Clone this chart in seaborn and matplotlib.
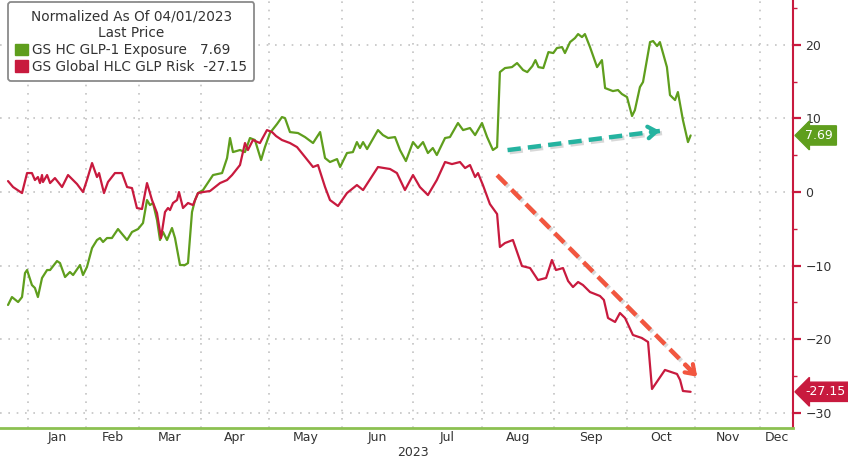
import numpy as np
import pandas as pd
import matplotlib
matplotlib.use("Agg")
import matplotlib.pyplot as plt
import matplotlib.dates as mdates
import matplotlib.transforms as mtrans
import matplotlib.patheffects as pe
from matplotlib.patches import Patch
from matplotlib.ticker import FixedLocator, MultipleLocator, NullFormatter
import seaborn as sns

# ---------------- data (days since 2023-01-01, value) ----------------
BASE = pd.Timestamp("2023-01-01")
green_name = "GS HC GLP-1 Exposure"
red_name = "GS Global HLC GLP Risk"
green_last = 7.69
red_last = -27.15
legend_title = "Normalized As Of 04/01/2023\nLast Price"
months = ["Jan", "Feb", "Mar", "Apr", "May", "Jun", "Jul", "Aug", "Sep", "Oct", "Nov", "Dec"]
year_label = "2023"
y_ticks = [20, 10, 0, -10, -20, -30]

green_days = [
    -10.7, -8.6, -5.3, -3.2, -1.6, -0.5, 2.1, 3.7, 5.3, 7.5,
    10.2, 11.8, 15.5, 17.1, 19.8, 22.4, 24.1, 27.8, 29.4, 31.5,
    34.2, 36.8, 38.4, 40.0, 42.1, 44.7, 47.9, 52.7, 55.3, 58.5,
    61.0, 63.0, 64.5, 66.0, 68.0, 69.5, 71.0, 73.0, 75.5, 77.0,
    79.5, 82.0, 83.5, 85.5, 87.0, 88.5, 90.9, 95.3, 99.3, 101.5,
    102.8, 104.1, 107.2, 109.4, 111.6, 113.8, 116.5, 118.2, 120.4, 123.4,
    125.5, 126.8, 128.9, 132.3, 135.3, 138.7, 141.7, 143.8, 145.9, 148.9,
    150.2, 153.1, 155.6, 157.3, 158.6, 159.9, 161.6, 166.2, 168.3, 170.5,
    173.4, 175.5, 178.0, 181.0, 183.2, 185.5, 187.7, 189.9, 191.7, 195.4,
    197.6, 201.2, 203.5, 206.6, 208.9, 212.0, 214.2, 216.7, 218.5, 219.7,
    221.9, 224.9, 227.1, 229.7, 231.5, 233.7, 235.0, 236.3, 238.4, 240.6,
    242.7, 244.2, 246.3, 247.5, 249.6, 251.6, 252.9, 254.5, 255.7, 257.8,
    260.7, 262.7, 264.0, 267.2, 269.3, 270.9, 273.0, 275.3, 276.6, 278.9,
    280.3, 283.5, 284.9, 286.7, 288.0, 291.2, 292.6, 294.9, 296.2, 298.5,
    300.8, 302.0,
]
green_vals = [
    -15.35, -14.27, -14.95, -14.27, -11.01, -10.60, -12.64, -13.04, -14.27, -11.68,
    -10.60, -10.60, -9.38, -9.65, -11.55, -10.87, -11.28, -9.92, -11.28, -10.19,
    -7.61, -6.52, -6.25, -6.79, -6.25, -6.25, -5.03, -6.52, -5.43, -5.03,
    -4.21, -1.09, -1.77, -1.49, -3.80, -6.52, -5.43, -6.52, -4.89, -6.25,
    -9.92, -9.92, -9.65, -2.72, -1.09, -0.14, 0.27, 2.31, 2.58, 4.62,
    7.34, 5.43, 5.71, 5.43, 7.34, 7.07, 4.35, 6.11, 8.02, 9.24,
    10.19, 10.05, 8.15, 8.02, 7.47, 6.66, 8.15, 4.62, 4.08, 4.48,
    3.40, 5.30, 5.43, 6.79, 5.98, 6.79, 5.84, 8.42, 7.74, 7.34,
    7.47, 5.71, 4.21, 6.79, 5.98, 6.79, 5.30, 5.98, 5.03, 7.34,
    7.47, 9.38, 8.42, 8.70, 7.74, 9.38, 7.47, 5.71, 6.11, 16.30,
    16.85, 16.98, 17.53, 16.58, 16.30, 17.12, 17.93, 16.98, 16.85, 19.02,
    18.89, 19.57, 19.70, 18.89, 20.38, 20.92, 21.47, 21.06, 21.47, 19.70,
    16.98, 17.93, 14.13, 13.72, 13.86, 13.32, 12.91, 10.33, 11.14, 14.27,
    14.95, 20.38, 20.52, 19.84, 20.38, 16.98, 13.18, 12.50, 13.59, 9.78,
    6.79, 7.69,
]

red_days = [
    -10.7, -8.0, -3.2, -0.5, 2.1, 3.7, 5.3, 6.4, 7.5, 8.0,
    10.2, 11.8, 14.4, 18.2, 21.4, 26.2, 29.4, 31.5, 34.2, 36.8,
    37.9, 40.5, 42.6, 46.3, 50.0, 52.7, 55.3, 57.9, 60.5, 63.0,
    65.5, 68.0, 70.0, 72.0, 73.5, 74.5, 76.0, 78.0, 79.0, 81.0,
    83.5, 86.0, 88.5, 90.9, 94.0, 98.4, 101.5, 103.7, 107.2, 109.4,
    110.7, 112.9, 116.0, 119.1, 121.3, 123.0, 125.5, 128.9, 131.9, 135.3,
    138.7, 140.8, 143.8, 145.9, 149.3, 153.1, 157.3, 159.9, 166.2, 171.3,
    174.2, 177.6, 181.0, 184.1, 187.7, 191.7, 195.4, 198.5, 202.1, 204.4,
    206.6, 208.9, 210.2, 212.4, 215.4, 218.5, 219.7, 221.9, 225.3, 229.2,
    232.7, 236.1, 239.6, 242.1, 243.8, 246.7, 248.8, 250.8, 252.9, 254.9,
    257.8, 261.9, 263.5, 265.2, 268.1, 270.1, 272.2, 275.7, 279.8, 282.6,
    284.4, 290.3, 295.8, 297.2, 298.5, 302.0,
]
red_vals = [
    1.49, 0.68, -0.14, 2.58, 2.58, 1.63, 2.04, 1.22, 2.31, 1.36,
    2.31, 1.22, 1.90, 0.68, 2.31, 1.09, 0.00, 1.63, 3.94, 2.04,
    2.58, -0.14, 1.36, 2.58, 2.58, 0.68, 0.54, -2.17, -2.31, 1.22,
    -1.09, -2.85, -6.25, -2.72, -2.17, -2.45, -1.49, -1.09, 0.00, -2.17,
    -1.49, -1.77, -0.14, 0.00, 0.14, 1.22, 1.63, 2.31, 3.67, 6.66,
    5.71, 7.07, 6.66, 8.42, 8.15, 7.61, 7.07, 6.66, 6.11, 4.76,
    3.40, 3.67, 0.68, -1.09, -1.90, -0.14, 0.95, 0.27, 3.40, 3.13,
    2.58, 0.27, 2.31, 0.68, -0.41, 1.63, 4.08, 3.80, 4.08, 3.26,
    3.67, 2.04, 2.58, 0.95, -1.63, -2.99, -7.47, -6.93, -6.52, -10.05,
    -10.33, -11.96, -11.68, -9.24, -10.60, -10.33, -12.09, -12.91, -12.23, -12.64,
    -13.59, -14.13, -14.67, -17.12, -17.66, -16.44, -17.12, -19.43, -19.84, -20.38,
    -26.77, -24.18, -24.73, -25.54, -27.04, -27.15,
]

# trend-arrow annotations: (start day, start value) -> (end day, end value)
teal_arrow = ((223.0, 5.7), (288.0, 8.3))
red_arrow = ((218.5, 2.3), (305.0, -25.1))

# ---------------- style ----------------
GREEN = "#5f9e1d"
RED = "#c81a3e"
AXIS_GREEN = "#8cc152"
TEAL = "#25b3a0"
ORANGE = "#f2563f"
TXT = "#333333"

sns.set_theme(style="white")
plt.rcParams["font.family"] = ["DejaVu Sans"]

fig = plt.figure(figsize=(8.48, 4.63), dpi=100)
ax = fig.add_axes([0.0, 1 - 428 / 463, 793 / 848, 428 / 463])

def to_dates(days):
    return BASE + pd.to_timedelta(np.asarray(days, float), unit="D")

df = pd.concat([
    pd.DataFrame({"date": to_dates(green_days), "value": green_vals, "series": green_name}),
    pd.DataFrame({"date": to_dates(red_days), "value": red_vals, "series": red_name}),
])
sns.lineplot(data=df, x="date", y="value", hue="series",
             palette={green_name: GREEN, red_name: RED},
             linewidth=1.6, legend=False, ax=ax, estimator=None, sort=False)

# ---- x scale: month bands as drawn in the reference (uneven widths) ----
knot_dates = pd.to_datetime(["2022-12-17", "2023-01-01", "2023-02-01", "2023-03-01", "2023-04-01",
                             "2023-05-01", "2023-06-01", "2023-07-01", "2023-08-01", "2023-09-01",
                             "2023-10-01", "2023-11-01", "2023-12-01", "2023-12-16"])
knot_width = np.array([0, 28, 86, 139, 201, 269, 342, 413, 482, 554, 627, 695, 760, 793], float)
kx = mdates.date2num(knot_dates)
s0 = (knot_width[1] - knot_width[0]) / (kx[1] - kx[0])
s1 = (knot_width[-1] - knot_width[-2]) / (kx[-1] - kx[-2])
KX = np.r_[kx[0] - 1e6, kx, kx[-1] + 1e6]
KP = np.r_[knot_width[0] - 1e6 * s0, knot_width, knot_width[-1] + 1e6 * s1]

def fwd(v):
    return np.interp(np.asarray(v, float), KX, KP)

def inv(v):
    return np.interp(np.asarray(v, float), KP, KX)

ax.set_xscale("function", functions=(fwd, inv))
ax.set_xlim(kx[0], kx[-1])
ax.set_ylim(-32.07, 26.1)

# month starts (grid) and month labels (centre of visible span)
month_starts = mdates.date2num(pd.date_range("2023-01-01", "2023-12-01", freq="MS"))
month_ends = mdates.date2num(pd.date_range("2023-02-01", "2024-01-01", freq="MS"))
mids = []
for a, b in zip(month_starts, month_ends):
    a2, b2 = max(a, kx[0]), min(b, kx[-1])
    mids.append(inv((fwd(a2) + fwd(b2)) / 2))
ax.xaxis.set_major_locator(FixedLocator(month_starts))
ax.xaxis.set_major_formatter(NullFormatter())
ax.xaxis.set_minor_locator(FixedLocator(mids))
ax.xaxis.set_minor_formatter(matplotlib.ticker.FixedFormatter(months))
ax.tick_params(axis="x", which="major", length=4, width=1, color="#cccccc", direction="out")
ax.tick_params(axis="x", which="minor", length=0, pad=2, labelsize=9, labelcolor=TXT)

tr = mtrans.blended_transform_factory(ax.transData, ax.transAxes)
ax.text(mdates.date2num(pd.Timestamp("2023-07-01")), -0.058, year_label, transform=tr,
        ha="center", va="center", fontsize=9, color=TXT)

# y axis on the right
ax.yaxis.tick_right()
ax.set_yticks(y_ticks)
ax.yaxis.set_minor_locator(MultipleLocator(5))
ax.tick_params(axis="y", which="major", length=6, width=1.6, color=RED, direction="out",
               labelsize=9, labelcolor=TXT, pad=3)
ax.tick_params(axis="y", which="minor", length=3, width=1, color=RED, direction="out")
ax.set_xlabel("")
ax.set_ylabel("")

for side in ["left", "top"]:
    ax.spines[side].set_visible(False)
ax.spines["right"].set_color(RED)
ax.spines["right"].set_linewidth(1.5)
ax.spines["bottom"].set_color(AXIS_GREEN)
ax.spines["bottom"].set_linewidth(2)

ax.grid(True, which="major", axis="both", color="#c4c4c4", linestyle=(0, (1, 4)), linewidth=1.2)

# last value tags
tr_y = mtrans.blended_transform_factory(ax.transAxes, ax.transData)
for val, col in [(green_last, GREEN), (red_last, RED)]:
    ax.annotate(f"{val:.2f}", xy=(1.0, val), xycoords=tr_y, xytext=(9, 0),
                textcoords="offset points", ha="left", va="center", fontsize=9,
                color="white", annotation_clip=False,
                bbox=dict(boxstyle="larrow,pad=0.25", fc=col, ec=col))

# trend arrows
shadow = [pe.SimpleLineShadow(offset=(1.5, -1.5), alpha=0.3, shadow_color="gray"), pe.Normal()]
for (p0, p1), col in [(teal_arrow, TEAL), (red_arrow, ORANGE)]:
    d0 = mdates.date2num(BASE + pd.Timedelta(days=p0[0]))
    d1 = mdates.date2num(BASE + pd.Timedelta(days=p1[0]))
    ax.plot([d0, d1], [p0[1], p1[1]], color=col, lw=3.2, linestyle=(0, (3, 1.6)),
            solid_capstyle="butt", path_effects=shadow, zorder=5)
    f0, f1 = fwd(d0), fwd(d1)
    back = inv(f1 - (f1 - f0) * 0.06)
    yb = p1[1] - (p1[1] - p0[1]) * 0.06
    ax.annotate("", xy=(d1, p1[1]), xytext=(back, yb),
                arrowprops=dict(arrowstyle="->,head_length=0.5,head_width=0.35", color=col, lw=3,
                                shrinkA=0, shrinkB=0), zorder=6)

# legend box
handles = [Patch(facecolor=GREEN, edgecolor=GREEN), Patch(facecolor=RED, edgecolor=RED)]
labels = [f"{green_name}   {green_last:.2f}", f"{red_name}  {red_last:.2f}"]
leg = ax.legend(handles, labels, title=legend_title, loc="upper left",
                bbox_to_anchor=(8 / 793, 1 - 2 / 428), borderaxespad=0,
                fontsize=9.8, title_fontsize=9.8, handlelength=0.9, handleheight=0.9,
                handletextpad=0.3, labelspacing=0.2, borderpad=0.55,
                frameon=True, fancybox=True, framealpha=1, edgecolor="#8a8a8a")
leg.get_frame().set_linewidth(1.3)
leg.get_title().set_color(TXT)
leg.get_title().set_multialignment("center")
leg.get_title().set_linespacing(1.25)
for t in leg.get_texts():
    t.set_color(TXT)
leg.set_zorder(10)

fig.savefig("out.png", dpi=100, facecolor="white")
